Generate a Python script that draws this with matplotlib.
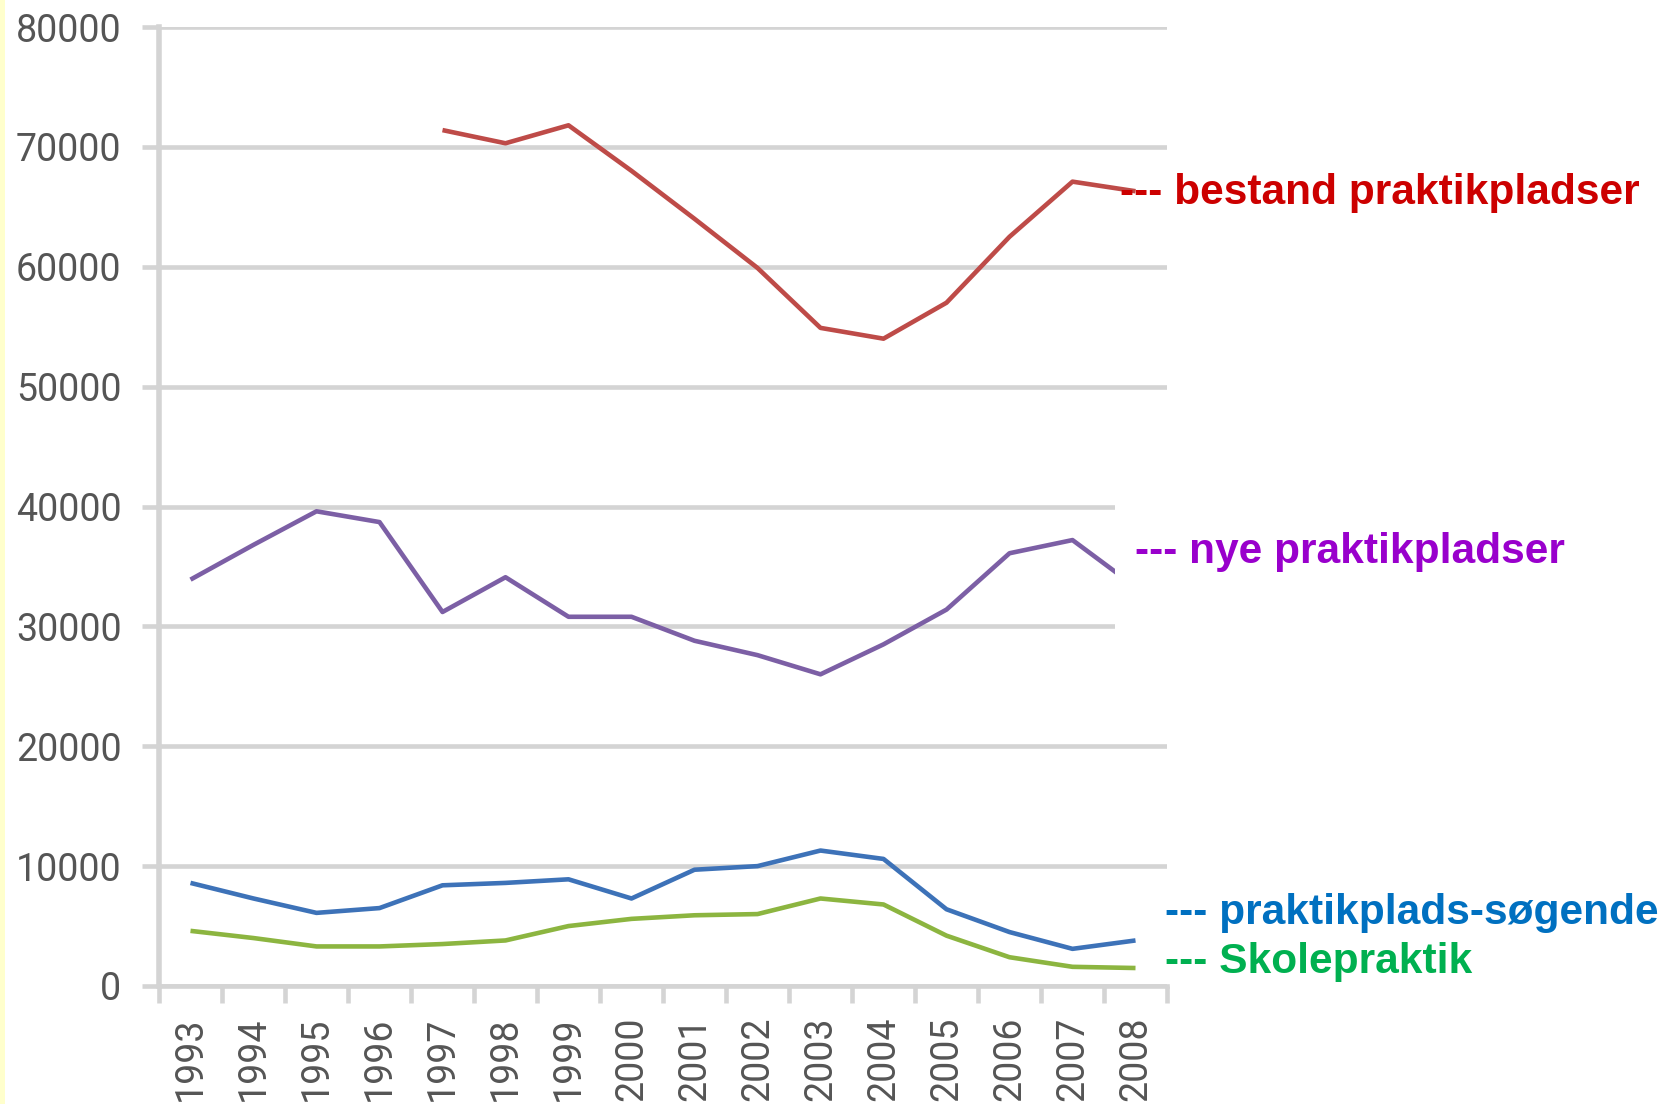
import matplotlib
matplotlib.use("Agg")
from matplotlib import pyplot as plt
from matplotlib.patches import Rectangle
import numpy as np

years = ['1993', '1994', '1995', '1996', '1997', '1998', '1999', '2000',
         '2001', '2002', '2003', '2004', '2005', '2006', '2007', '2008']

# bestand praktikpladser (first value in 1997)
bestand = [None, None, None, None, 71400, 70300, 71800, 68000,
           64000, 59900, 54900, 54000, 57000, 62500, 67100, 66300]
nye = [33900, 36800, 39600, 38700, 31200, 34100, 30800, 30800,
       28800, 27600, 26000, 28500, 31400, 36100, 37200, 33300]
soegende = [8600, 7300, 6100, 6500, 8400, 8600, 8900, 7300,
            9700, 10000, 11300, 10600, 6400, 4500, 3100, 3800]
skole = [4600, 4000, 3300, 3300, 3500, 3800, 5000, 5600,
         5900, 6000, 7300, 6800, 4200, 2400, 1600, 1500]

yticks = [0, 10000, 20000, 30000, 40000, 50000, 60000, 70000, 80000]

labels = ['--- bestand praktikpladser', '--- nye praktikpladser',
          '--- praktikplads-søgende', '--- Skolepraktik']
label_colors = ['#cc0000', '#9900cc', '#0070c0', '#00b050']
line_colors = ['#be4b48', '#7c5fa5', '#3d72b8', '#8cb540']

W, H = 1664, 1104
fig = plt.figure(figsize=(W / 100, H / 100), dpi=100)
ax = fig.add_axes([159 / W, 1 - 986 / H, (1167 - 159) / W, (986 - 27) / H])

x = np.arange(len(years))
series = [bestand, nye, soegende, skole]
for s, c in zip(series, line_colors):
    y = np.array([np.nan if v is None else v for v in s], dtype=float)
    ax.plot(x, y, color=c, lw=3.3, solid_capstyle='butt',
            solid_joinstyle='round', zorder=3)

grid_c = '#d4d4d4'
ax.set_xlim(-0.5, len(years) - 0.5)
ax.set_ylim(0, 80000)
ax.set_yticks(yticks)
ax.set_yticklabels([str(v) for v in yticks])
ax.set_xticks(x)
ax.set_xticklabels(years, rotation=90, va='top', ha='center')
ax.set_xticks(np.arange(-0.5, len(years)), minor=True)

ax.set_axisbelow(True)
ax.yaxis.grid(True, color=grid_c, lw=3.3)
for side in ['top', 'right']:
    ax.spines[side].set_visible(False)
ax.spines['left'].set_color(grid_c)
ax.spines['left'].set_linewidth(4)
ax.spines['bottom'].set_color(grid_c)
ax.spines['bottom'].set_linewidth(3.3)

ax.tick_params(axis='y', length=12, width=3.3, color=grid_c, pad=15,
               labelsize=27, labelcolor='#555555')
ax.tick_params(axis='x', which='major', length=0, pad=22,
               labelsize=27, labelcolor='#555555')
ax.tick_params(axis='x', which='minor', length=12, width=3.3, color=grid_c)
for lab in ax.get_xticklabels() + ax.get_yticklabels():
    lab.set_family('Roboto')

# white box behind the purple label that hides the line and gridlines
fig.patches.append(Rectangle((1115 / W, 1 - 640 / H), 400 / W, 140 / H,
                             transform=fig.transFigure, facecolor='white',
                             edgecolor='none', zorder=1))
# thin yellow strip at left edge
fig.patches.append(Rectangle((0, 0), 5 / W, 1, transform=fig.transFigure,
                             facecolor='#ffffcc', edgecolor='none', zorder=1))

label_pos = [(1120, 193), (1135, 552), (1165, 913), (1165, 962)]
for t, c, (px, py) in zip(labels, label_colors, label_pos):
    fig.text(px / W, 1 - py / H, t, color=c, fontsize=30.6, fontweight='bold',
             family='Liberation Sans', va='center', ha='left', zorder=2)

fig.savefig('out.png', dpi=100)
